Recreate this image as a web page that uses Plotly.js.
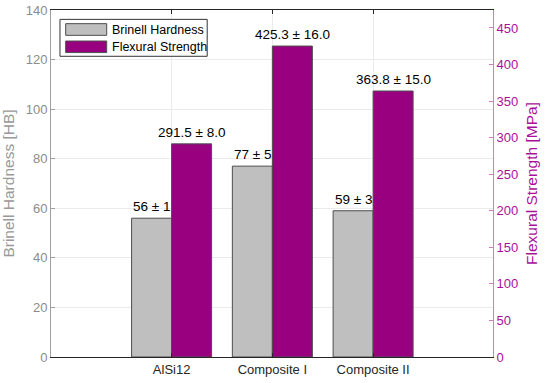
<!DOCTYPE html>
<html>
<head>
<meta charset="utf-8">
<script src="https://cdn.plot.ly/plotly-3.0.1.min.js"></script>
<style>html,body{margin:0;padding:0;background:#fff;}#chart{width:550px;height:383px;}</style>
</head>
<body>
<div id="chart"></div>
<script>
// ---- data ----
const categories = ["AlSi12", "Composite I", "Composite II"];
const categoryPos = [1, 2, 3];
const hardness = [56, 77, 59];
const hardnessErr = [1, 5, 3];
const strength = [291.5, 425.3, 363.8];
const strengthErr = [8.0, 16.0, 15.0];
const seriesNames = ["Brinell Hardness", "Flexural Strength"];

// ---- styles ----
const grayFill = "#bfbfbf";
const purpleFill = "#990080";
const outline = "#4d4d4d";
const barW = 0.397;
const font = "Arial, 'Liberation Sans', sans-serif";
const leftColor = "#8c8c8c";
const rightColor = "#a8109a";

const traces = [
  {type: "bar", name: seriesNames[0], x: categoryPos, y: hardness, yaxis: "y",
   width: barW, offset: -barW, marker: {color: grayFill, line: {color: outline, width: 1}},
   showlegend: false, hoverinfo: "skip"},
  {type: "bar", name: seriesNames[1], x: categoryPos, y: strength, yaxis: "y2",
   width: barW, offset: 0, marker: {color: purpleFill, line: {color: outline, width: 1}},
   showlegend: false, hoverinfo: "skip"}
];

const annotations = [];
categoryPos.forEach((p, i) => {
  annotations.push({x: p - barW / 2, y: hardness[i], xref: "x", yref: "y",
    text: hardness[i] + " ± " + hardnessErr[i], showarrow: false, yanchor: "bottom",
    yshift: 2, font: {family: font, size: 13.5, color: "#000"}});
  annotations.push({x: p + barW / 2, y: strength[i], xref: "x", yref: "y2",
    text: strength[i].toFixed(1) + " ± " + strengthErr[i].toFixed(1), showarrow: false, yanchor: "bottom",
    yshift: 2, font: {family: font, size: 13.5, color: "#000"}});
});

// custom legend (box, swatches, labels)
const legendFills = [grayFill, purpleFill];
const legRows = [[0.9270, 0.9606], [0.8773, 0.9106]];
const shapes = [
  {type: "rect", xref: "paper", yref: "paper", x0: 0.0203, x1: 0.3534, y0: 0.8666, y1: 0.973,
   fillcolor: "#fff", line: {color: "#333", width: 1}, layer: "above"}
];
legRows.forEach((r, i) => {
  shapes.push({type: "rect", xref: "paper", yref: "paper", x0: 0.0332, x1: 0.1260, y0: r[0], y1: r[1],
    fillcolor: legendFills[i], line: {color: outline, width: 1}, layer: "above"});
  annotations.push({xref: "paper", yref: "paper", x: 0.1334, y: (r[0] + r[1]) / 2,
    xanchor: "left", yanchor: "middle", text: seriesNames[i], showarrow: false,
    font: {family: font, size: 12.5, color: "#000"}});
});

const layout = {
  width: 550, height: 383,
  margin: {l: 51, r: 57, t: 10, b: 25.5},
  paper_bgcolor: "#fff", plot_bgcolor: "#fff",
  font: {family: font},
  showlegend: false,
  bargap: 0,
  xaxis: {
    range: [-0.197, 4.19], tickvals: categoryPos, ticktext: categories,
    showgrid: true, gridcolor: "#ebebeb", zeroline: false,
    showline: true, linecolor: "#262626", linewidth: 1, mirror: "ticks",
    ticks: "inside", ticklen: 4, tickcolor: "#262626",
    tickfont: {family: font, size: 13, color: "#262626"}
  },
  yaxis: {
    range: [0, 140], dtick: 20, showgrid: true, gridcolor: "#ebebeb", zeroline: false,
    showline: true, linecolor: "#a0a0a0", linewidth: 1,
    ticks: "inside", ticklen: 4, tickcolor: "#a0a0a0",
    tickfont: {family: font, size: 13, color: leftColor},
    title: {text: "Brinell Hardness [HB]", font: {family: font, size: 15.5, color: "#999"}, standoff: 8}
  },
  yaxis2: {
    range: [0, 474.6], dtick: 50, overlaying: "y", side: "right", showgrid: false, zeroline: false,
    showline: true, linecolor: "#d47ccb", linewidth: 1,
    ticks: "inside", ticklen: 4, tickcolor: "#d47ccb",
    tickfont: {family: font, size: 13, color: rightColor},
    title: {text: "Flexural Strength [MPa]", font: {family: font, size: 15.5, color: rightColor}, standoff: 8}
  },
  shapes: shapes,
  annotations: annotations
};

Plotly.newPlot("chart", traces, layout, {staticPlot: true, displayModeBar: false});
</script>
</body>
</html>
